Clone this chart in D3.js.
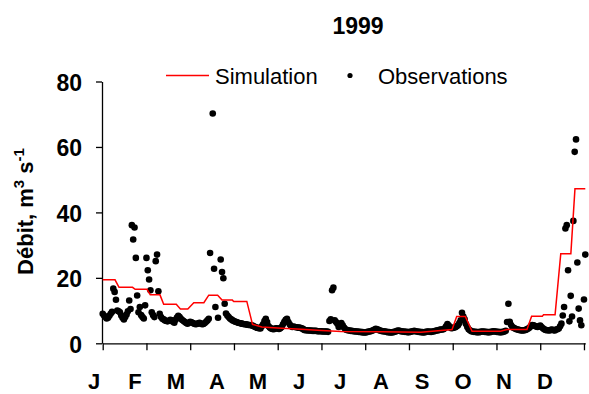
<!DOCTYPE html>
<html>
<head>
<meta charset="utf-8">
<script src="https://cdn.jsdelivr.net/npm/d3@7"></script>
<style>
  html, body { margin: 0; padding: 0; background: #fff; }
  svg { display: block; font-family: "Liberation Sans", Arial, sans-serif; }
</style>
</head>
<body>
<svg id="chart" width="589" height="394"></svg>
<script>
// Daily discharge 1999: observed values (one per day, null = no measurement)
const obsValues = [
  9.0, 8.5, 8.0, 7.6, 7.8, 8.4, 9.0, 9.6, 16.7, 15.7,
  13.3, 10.0, 9.8, 9.5, 8.5, 7.8, 7.3, 8.0, 8.8, 9.8,
  13.1, 10.5, 36.1, 31.7, 35.4, 26.1, 14.6, 9.5, 11.1, 8.6,
  8.0, 7.6, 11.6, 26.1, 22.3, 19.5, 16.2, 9.5, 8.6, 8.0,
  25.1, 27.1, 15.9, 9.0, 8.0, 7.5, 7.3, 7.0, 6.8, 6.7,
  6.9, 7.2, 7.0, 6.6, 6.3, 7.2, 7.9, 8.4, 8.0, 7.5,
  7.1, 6.8, 6.5, 6.2, 6.0, 6.3, 6.6, 6.4, 6.2, 6.0,
  5.8, 5.9, 6.1, 6.3, 6.0, 5.8, 5.9, 6.2, 6.6, 7.0,
  7.5, 27.6, null, 70.2, 22.8, 11.1, null, 7.8, null, 25.6,
  21.8, 19.9, 12.1, 9.1, 8.5, 8.0, 7.6, 7.3, 7.0, 6.8,
  6.6, 6.5, 6.3, 6.2, 6.1, 6.0, 5.9, 5.8, 5.8, 5.7,
  5.6, 5.6, 5.5, 5.4, 5.2, 5.0, 4.8, 4.7, 4.6, 4.5,
  5.2, 5.8, 6.8, 7.5, 6.5, 5.3, 4.8, 4.5, 4.4, 4.3,
  4.5, 4.6, 4.5, 4.4, 4.6, 5.0, 5.8, 6.6, 7.2, 7.5,
  6.5, 5.8, 5.3, 5.0, 5.1, 5.0, 4.9, 4.8, 4.8, 4.7,
  4.6, 4.4, 4.1, 4.0, 4.0, 3.9, 3.9, 3.9, 3.8, 3.8,
  3.8, 3.8, 3.7, 3.7, 3.7, 3.7, 3.6, 3.6, 3.6, 3.6,
  3.5, 6.8, 7.3, 16.2, 17.0, 7.0, 6.5, 6.0, 5.0, 5.6,
  6.2, 5.5, 4.8, 4.3, 4.1, 4.0, 3.9, 3.8, 3.8, 3.7,
  3.7, 3.6, 3.6, 3.5, 3.5, 3.4, 3.4, 3.3, 3.3, 3.4,
  3.5, 3.6, 3.7, 3.8, 4.0, 4.2, 4.4, 4.3, 4.1, 3.9,
  3.8, 3.7, 3.7, 3.6, 3.5, 3.4, 3.4, 3.3, 3.3, 3.4,
  3.5, 3.6, 3.8, 3.9, 3.8, 3.7, 3.6, 3.6, 3.5, 3.5,
  3.4, 3.4, 3.5, 3.6, 3.7, 3.8, 3.7, 3.6, 3.5, 3.5,
  3.4, 3.4, 3.3, 3.4, 3.5, 3.6, 3.6, 3.5, 3.5, 3.6,
  3.7, 3.8, 3.9, 4.0, 4.1, 4.2, 4.2, 4.3, 4.6, 5.2,
  5.9, 5.4, 4.8, 4.6, 4.7, 4.8, 4.9, 5.2, 5.5, 6.2,
  7.0, 9.3, 8.2, 7.3, 5.9, 5.0, 4.3, 4.0, 3.7, 3.6,
  3.5, 3.5, 3.4, 3.4, 3.4, 3.5, 3.6, 3.6, 3.5, 3.5,
  3.4, 3.4, 3.4, 3.5, 3.6, 3.7, 3.6, 3.5, 3.5, 3.4,
  3.4, 3.4, 3.5, 3.6, 3.8, 6.5, 12.1, 6.6, 5.6, 5.0,
  4.7, 4.5, 4.3, 4.2, 4.1, 4.0, 3.9, 3.9, 4.0, 4.1,
  4.3, 4.5, 4.8, 5.3, 5.6, 5.5, 5.3, 5.1, 5.0, 5.2,
  5.4, 5.0, 4.6, 4.3, 4.1, 4.0, 4.0, 3.9, 4.1, 4.2,
  4.0, 3.9, 4.2, 4.3, 4.5, 5.2, 6.0, 8.5, 11.1, 35.1,
  36.1, 22.3, 6.7, 14.5, 8.2, 37.4, 58.5, 62.3, 24.7, 10.6,
  7.0, 5.5, null, 13.4, 27.1
];

// Simulated discharge: vertices of the model output (day of year, value)
const simDays = [0, 9.3, 12.3, 22.5, 24.5, 33.4, 35.9, 43.2, 46, 55.5,
  58.6, 64.2, 68.7, 76.3, 80, 86.7, 90, 97.8, 98.8, 108.7,
  113, 120, 135, 150, 165, 180, 210, 240, 263.5, 267,
  273.5, 278.6, 300, 305, 320, 323.5, 331.6, 332.5, 341.2, 345.5,
  353.1, 356.2, 364];
const simValues = [19.4, 19.4, 17.1, 17.1, 16.5, 16.5, 14.8, 14.8, 11.9, 11.9,
  10.5, 10.5, 12.4, 12.4, 14.7, 14.7, 13.2, 13.2, 12.8, 12.8,
  5.8, 5.0, 4.6, 4.3, 3.9, 3.6, 3.5, 3.4, 4.2, 8.2,
  8.2, 3.7, 3.7, 4.2, 4.2, 8.3, 8.3, 8.7, 8.7, 27.4,
  27.4, 47.2, 47.2];

const monthLabels = ["J", "F", "M", "A", "M", "J", "J", "A", "S", "O", "N", "D"];
const yTicks = [0, 20, 40, 60, 80];
const xTicks = d3.range(12).map(i => i * 33);
const title = "1999";

const svg = d3.select("#chart");
const FONT = '"Liberation Sans", Arial, sans-serif';

const x = d3.scaleLinear().domain([0, 364]).range([102.7, 585.3]);
const y = d3.scaleLinear().domain([0, 80]).range([343.3, 81.5]);
const monthPos = d3.scalePoint().domain(d3.range(12)).range([94, 545]);

// Title
svg.append("text")
  .attr("x", 358).attr("y", 34)
  .attr("text-anchor", "middle")
  .attr("font-size", 23).attr("font-weight", "bold")
  .text(title);

// Legend
const legend = svg.append("g");
legend.append("line")
  .attr("x1", 166).attr("x2", 209).attr("y1", 75.5).attr("y2", 75.5)
  .attr("stroke", "#ff0000").attr("stroke-width", 1.5);
legend.append("text")
  .attr("x", 215).attr("y", 83.5)
  .attr("font-size", 22).text("Simulation");
legend.append("circle")
  .attr("cx", 350).attr("cy", 75.5).attr("r", 2.6).attr("fill", "#000");
legend.append("text")
  .attr("x", 378).attr("y", 83.5)
  .attr("font-size", 22).text("Observations");

// Y axis
const yAxis = svg.append("g")
  .attr("transform", `translate(${x(0) - 0.7},0)`)
  .call(d3.axisLeft(y).tickValues(yTicks).tickSize(6).tickPadding(14).tickSizeOuter(0));
yAxis.selectAll("text")
  .attr("font-size", 23).attr("font-weight", "bold")
  .attr("font-family", FONT).attr("fill", "#000").attr("dy", "0.38em");

// X axis (ticks only, month labels drawn separately)
svg.append("g")
  .attr("transform", `translate(0,${y(0)})`)
  .call(d3.axisBottom(x).tickValues(xTicks).tickSize(7).tickSizeOuter(0).tickFormat(""));

svg.selectAll(".domain, .tick line")
  .attr("stroke", "#000").attr("stroke-width", 1.3);

svg.append("g").selectAll("text")
  .data(monthLabels)
  .join("text")
  .attr("x", (d, i) => monthPos(i))
  .attr("y", 389)
  .attr("text-anchor", "middle")
  .attr("font-size", 22).attr("font-weight", "bold")
  .text(d => d);

// Y axis title with superscripts
const yt = svg.append("text")
  .attr("transform", "translate(33,211.5) rotate(-90)")
  .attr("text-anchor", "middle")
  .attr("font-size", 22).attr("font-weight", "bold");
yt.append("tspan").text("Débit, m");
yt.append("tspan").attr("font-size", 15).attr("dy", -9).text("3");
yt.append("tspan").attr("dy", 9).text(" s");
yt.append("tspan").attr("font-size", 15).attr("dy", -9).text("-1");

// Observations
const obs = obsValues.map((v, i) => ({ day: i, value: v })).filter(d => d.value !== null);
svg.append("g").selectAll("circle")
  .data(obs)
  .join("circle")
  .attr("cx", d => x(d.day))
  .attr("cy", d => y(d.value))
  .attr("r", 3.3)
  .attr("fill", "#000");

// Simulation line
const sim = simDays.map((d, i) => ({ day: d, value: simValues[i] }));
svg.append("path")
  .datum(sim)
  .attr("fill", "none")
  .attr("stroke", "#ff0000")
  .attr("stroke-width", 1.5)
  .attr("d", d3.line().x(d => x(d.day)).y(d => y(d.value)));
</script>
</body>
</html>
